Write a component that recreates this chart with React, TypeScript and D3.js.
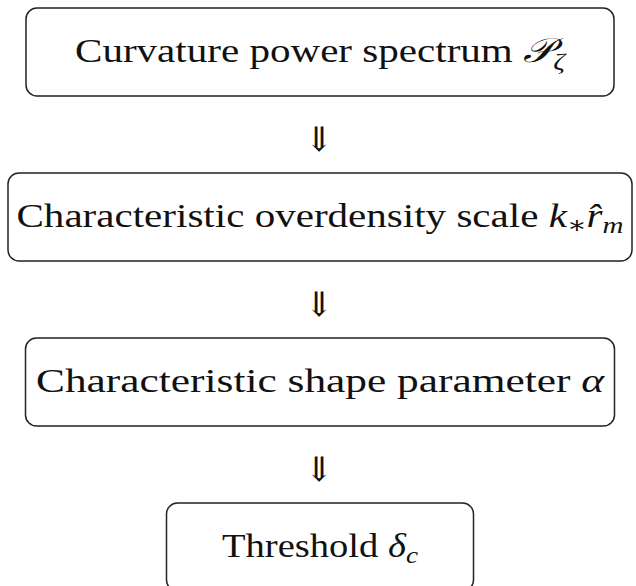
import React from "react";
import * as d3 from "d3";

const W = 636;
const H = 586;

// Flowchart steps (plain label part, math part)
const stepLabels = [
  "Curvature power spectrum ",
  "Characteristic overdensity scale ",
  "Characteristic shape parameter ",
  "Threshold ",
];
const stepIds = ["P", "kr", "alpha", "delta"];
const boxWidths = [588, 624, 589, 307];
const textWidths = [490, 607, 568, 196];
const arrowGlyph = "\u21D3";

const FONT = "'Liberation Serif', 'DejaVu Serif', serif";
const FS = 34;

function MathPart({ id }: { id: string }) {
  const it = { fontStyle: "italic" as const };
  const sub = { fontSize: 24, fontStyle: "italic" as const };
  if (id === "P")
    return (
      <>
        <tspan style={it}>𝒫</tspan>
        <tspan style={sub} dy={7}>ζ</tspan>
      </>
    );
  if (id === "kr")
    return (
      <>
        <tspan style={it}>k</tspan>
        <tspan style={{ fontSize: 24 }} dy={6}>∗</tspan>
        <tspan style={it} dy={-6}>r̂</tspan>
        <tspan style={sub} dy={6}>m</tspan>
      </>
    );
  if (id === "alpha") return <tspan style={it}>α</tspan>;
  return (
    <>
      <tspan style={it}>δ</tspan>
      <tspan style={sub} dy={6}>c</tspan>
    </>
  );
}

export default function App() {
  const cx = 320;
  const boxH = 88;
  const y = d3
    .scaleLinear()
    .domain([0, stepLabels.length - 1])
    .range([8, 503]);
  return (
    <svg
      width={W}
      height={H}
      style={{ position: "absolute", left: 0, top: 0, background: "#fff" }}
    >
      {stepLabels.map((lab, i) => {
        const top = y(i);
        const w = boxWidths[i];
        return (
          <g key={i}>
            <rect
              x={cx - w / 2}
              y={top}
              width={w}
              height={boxH}
              rx={11}
              ry={11}
              fill="none"
              stroke="#222"
              strokeWidth={1.5}
            />
            <text
              x={cx - textWidths[i] / 2}
              y={top + boxH / 2 + 10}
              textLength={textWidths[i]}
              lengthAdjust="spacingAndGlyphs"
              fontFamily={FONT}
              fontSize={FS}
              fill="#111"
            >
              <tspan>{lab}</tspan>
              <MathPart id={stepIds[i]} />
            </text>
            {i < stepLabels.length - 1 && (
              <text
                x={cx - 1}
                y={(top + boxH + y(i + 1)) / 2 + 16}
                textAnchor="middle"
                fontFamily="'DejaVu Serif', serif"
                fontSize={34}
                fill="#111"
              >
                {arrowGlyph}
              </text>
            )}
          </g>
        );
      })}
    </svg>
  );
}
